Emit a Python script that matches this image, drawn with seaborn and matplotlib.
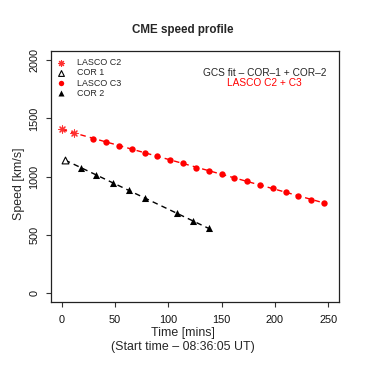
import numpy as np
import pandas as pd
import matplotlib
matplotlib.use("Agg")
import matplotlib.pyplot as plt
import seaborn as sns

# values
c2_time = [0, 11.5]
c2_speed = [1406, 1378]

c3_time = [29.7, 41.8, 54, 65.8, 77.9, 89.8, 102, 114, 126, 138,
           150, 162, 174, 186, 198, 210, 222, 234, 246]
c3_speed = [1326, 1295, 1266, 1235, 1203, 1175, 1143, 1112, 1077, 1048,
            1020, 988, 957, 928, 897, 865, 833, 802, 773]

cor1_time = [3]
cor1_speed = [1140]

cor2_time = [18, 32, 47.7, 63, 78, 108, 123, 138]
cor2_speed = [1077, 1017, 948, 880, 813, 682, 619, 553]

x_ticks = [0, 50, 100, 150, 200, 250]
y_ticks = [0, 500, 1000, 1500, 2000]

sns.set_style("ticks")
plt.rcParams['font.family'] = ['Liberation Sans', 'DejaVu Sans']

W = 366
fig = plt.figure(figsize=(3.66, 3.66), dpi=100)
ax = fig.add_axes([51 / W, 1 - 302 / W, (339 - 51) / W, (302 - 51) / W])

lasco = pd.DataFrame({'t': c2_time + c3_time, 'v': c2_speed + c3_speed})
cor = pd.DataFrame({'t': cor1_time + cor2_time, 'v': cor1_speed + cor2_speed})

# dashed fit lines
sns.regplot(data=lasco, x='t', y='v', scatter=False, ci=None, ax=ax,
            line_kws=dict(color='#ff0000', lw=1.0, ls=(0, (4, 3))))
sns.regplot(data=cor, x='t', y='v', scatter=False, ci=None, ax=ax,
            line_kws=dict(color='black', lw=1.0, ls=(0, (4, 3))))

sns.scatterplot(x=c2_time, y=c2_speed, marker=(8, 2, 0), s=26, color='#ff3030',
                linewidth=0.8, edgecolor='#ff3030', ax=ax, label='LASCO C2', zorder=3)
sns.scatterplot(x=cor1_time, y=cor1_speed, marker='^', s=24, facecolor='white',
                edgecolor='black', linewidth=0.8, ax=ax, label='COR 1', zorder=3)
sns.scatterplot(x=c3_time, y=c3_speed, marker='o', s=21, color='#ff0000',
                edgecolor='#ff0000', linewidth=0, ax=ax, label='LASCO C3', zorder=3)
sns.scatterplot(x=cor2_time, y=cor2_speed, marker='^', s=26, color='black',
                edgecolor='black', linewidth=0, ax=ax, label='COR 2', zorder=3)

ax.set_xlim(-10, 260)
ax.set_ylim(-80, 2080)
ax.set_xticks(x_ticks)
ax.set_yticks(y_ticks)
ax.set_xlabel('')
ax.set_ylabel('')
ax.tick_params(axis='both', direction='out', length=3.8, width=0.8,
               labelsize=7.8, color='#333333', labelcolor='#111111')
ax.tick_params(axis='x', pad=5.3)
ax.tick_params(axis='y', pad=4.5)
for lab in ax.get_yticklabels():
    lab.set_rotation(90)
    lab.set_va('center')
for sp in ax.spines.values():
    sp.set_visible(True)
    sp.set_linewidth(0.9)
    sp.set_color('#222222')

leg = ax.legend(loc='upper left', frameon=False, fontsize=6.4, handletextpad=1.3,
                labelspacing=0.14, borderaxespad=0.0, borderpad=0.0,
                markerscale=0.85, handlelength=1.0,
                bbox_to_anchor=(0.018, 0.972))

ax.text(0.741, 0.9135, 'GCS fit – COR–1 + COR–2', transform=ax.transAxes,
        ha='center', va='center', fontsize=7.3)
ax.text(0.741, 0.871, 'LASCO C2 + C3', transform=ax.transAxes,
        ha='center', va='center', fontsize=7.3, color='#ff0000')

fig.text(0.5, 1 - 30 / W, 'CME speed profile', ha='center', va='center',
         fontsize=8.4, fontweight='bold')
fig.text(0.5, 1 - 333 / W, 'Time [mins]', ha='center', va='center', fontsize=8.9)
fig.text(0.5, 1 - 347 / W, '(Start time – 08:36:05 UT)', ha='center',
         va='center', fontsize=8.9)
fig.text(18.7 / W, 1 - 183.5 / W, 'Speed [km/s]', ha='center', va='center',
         rotation=90, fontsize=8.9)

fig.savefig('out.png', dpi=100, facecolor='white')
